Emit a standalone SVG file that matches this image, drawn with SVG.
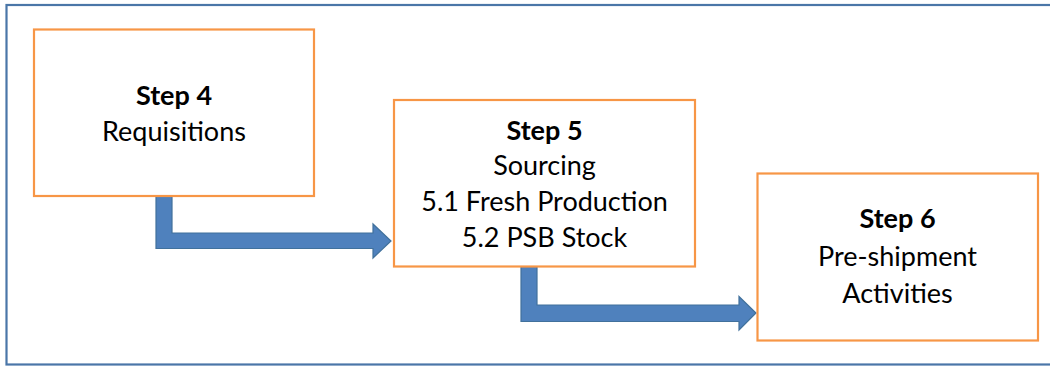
<svg xmlns="http://www.w3.org/2000/svg" width="1050" height="368" viewBox="0 0 1050 368">
<style>
.box{fill:#ffffff;stroke:#F79646;stroke-width:2.2}
.arrow{fill:#4F81BD;stroke:#41719C;stroke-width:1.2}
text{font-family:Lato,"Open Sans","Liberation Sans",sans-serif;font-size:27px;fill:#000;text-anchor:middle}
.b{font-weight:bold}
</style>
<rect x="0" y="0" width="1050" height="368" fill="#ffffff"/>
<rect id="frame" x="6.5" y="5" width="1060" height="359.5" fill="none" stroke="#4A76A8" stroke-width="2.2"/>
<g id="connectors">
<path class="arrow" d="M156,196 L172,196 L172,233 L373,233 L373,224 L391,241 L373,258 L373,248.5 L156,248.5 Z"/>
<path class="arrow" d="M521,266.5 L537,266.5 L537,305 L739,305 L739,296.5 L756,313 L739,330 L739,321.5 L521,321.5 Z"/>
</g>
<g id="step4">
<rect class="box" x="34" y="29.5" width="280" height="166.5"/>
<text class="b" x="174" y="105">Step 4</text>
<text x="174" y="141">Requisitions</text>
</g>
<g id="step5">
<rect class="box" x="394" y="100" width="301" height="166.5"/>
<text class="b" x="544.5" y="139.5">Step 5</text>
<text x="544.5" y="175">Sourcing</text>
<text x="544.5" y="210.7">5.1 Fresh Production</text>
<text x="544.5" y="246.5">5.2 PSB Stock</text>
</g>
<g id="step6">
<rect class="box" x="757.5" y="173.5" width="280.5" height="167"/>
<text class="b" x="897.5" y="228.3">Step 6</text>
<text x="897.5" y="266">Pre-shipment</text>
<text x="897.5" y="303.3">Activities</text>
</g>
</svg>
